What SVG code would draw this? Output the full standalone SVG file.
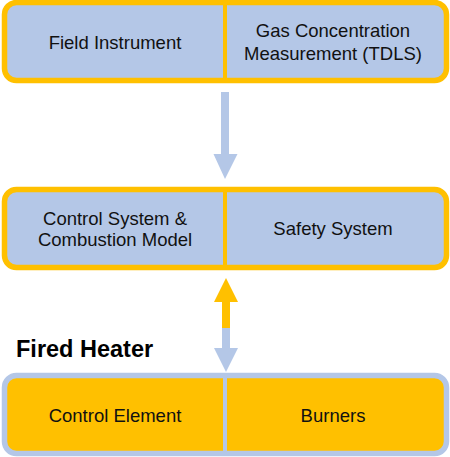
<svg xmlns="http://www.w3.org/2000/svg" width="450" height="457" viewBox="0 0 450 457">
<style>
.t{font-family:"Liberation Sans",Arial,sans-serif;font-size:18.5px;fill:#111;text-anchor:middle}
.h{font-family:"Liberation Sans",Arial,sans-serif;font-size:23.5px;font-weight:bold;fill:#000}
.bo{fill:#B4C7E7;stroke:#FFC000;stroke-width:5.5}
.ob{fill:#FFC000;stroke:#B4C7E7;stroke-width:5.5}
</style>
<rect width="450" height="457" fill="#fff"/>
<g id="connectors">
<polygon points="221,92 229,92 229,154 237.5,154 225,179 213.5,154 221,154" fill="#B4C7E7"/>
<polygon points="226,278 238,302 230,302 230,328 222,328 222,302 214,302" fill="#FFC000"/>
<polygon points="222,328 230,328 230,348 238,348 226,372 214,348 222,348" fill="#B4C7E7"/>
</g>
<g id="top">
<rect class="bo" x="4.5" y="2.5" width="442" height="78" rx="12"/>
<line x1="225" y1="5" x2="225" y2="78" stroke="#FFC000" stroke-width="4"/>
<g id="field-instrument"><text class="t" x="115" y="49">Field Instrument</text></g>
<g id="gas-concentration"><text class="t" x="333" y="37">Gas Concentration</text><text class="t" x="333" y="59.5">Measurement (TDLS)</text></g>
</g>
<g id="middle">
<rect class="bo" x="4.5" y="189.5" width="442" height="78" rx="12"/>
<line x1="225" y1="192" x2="225" y2="265" stroke="#FFC000" stroke-width="4"/>
<g id="control-system"><text class="t" x="115" y="224.5">Control System &amp;</text><text class="t" x="115" y="246">Combustion Model</text></g>
<g id="safety-system"><text class="t" x="333" y="235">Safety System</text></g>
</g>
<g id="fired-heater-label"><text class="h" x="16" y="357">Fired Heater</text></g>
<g id="bottom">
<rect class="ob" x="4.5" y="375.5" width="442" height="78" rx="12"/>
<line x1="225" y1="378" x2="225" y2="451" stroke="#B4C7E7" stroke-width="4"/>
<g id="control-element"><text class="t" x="115" y="421.5">Control Element</text></g>
<g id="burners"><text class="t" x="333" y="421.5">Burners</text></g>
</g>
</svg>
